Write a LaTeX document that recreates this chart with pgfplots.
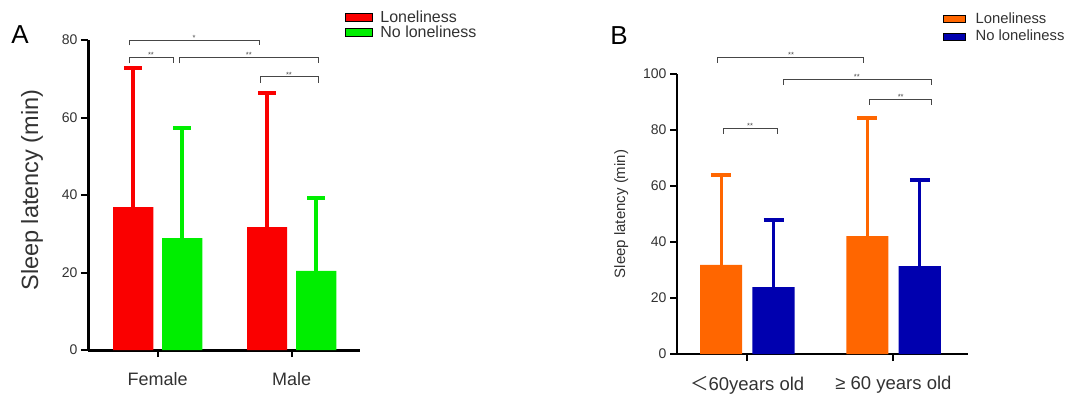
\documentclass[border=0pt]{standalone}
\usepackage{fontspec}
\setmainfont{Liberation Sans}
\newfontfamily\cjk{Noto Sans CJK SC}
\usepackage{pgfplots}
\pgfplotsset{compat=1.18}
\definecolor{cred}{RGB}{250,0,0}
\definecolor{cgreen}{RGB}{0,238,0}
\definecolor{corange}{RGB}{255,102,0}
\definecolor{cblue}{RGB}{0,0,175}
\definecolor{brk}{RGB}{70,70,70}
\definecolor{tk}{RGB}{50,50,50}
\pgfplotsset{
  mybar/.style n args={4}{ybar, bar width=#2, bar shift=0pt, draw=none, fill=#1,
    error bars/.cd, y dir=plus, y explicit, error mark=|,
    error bar style={line width=#3, color=#1},
    error mark options={line width=4pt, mark size=#4, color=#1}},
  base/.style={
    scale only axis, clip=false,
    axis x line*=bottom, axis y line*=left,
    x axis line style={line width=#1, black},
    y axis line style={line width=#1, black},
    every outer x axis line/.append style={line width=#1},
    every outer y axis line/.append style={line width=#1},
    tick style={line width=2pt, black},
    major tick length=7pt,
    tick align=outside,
    ymin=0,
    xtick={0,1},
    yticklabel style={font=\fontsize{14}{15}\selectfont, text=tk},
    /pgf/number format/assume math mode=true,
    xticklabel style={text=tk, yshift=-12pt},
    legend cell align=left,
    legend style={draw=none, fill=none, inner sep=0pt, text=tk, row sep=0pt,
      nodes={inner ysep=1pt, inner xsep=0pt},
      /tikz/every odd column/.append style={column sep=8pt}},
  },
  brack/.style={forget plot, brk, line width=0.9pt},
}
\newcommand{\stars}[3]{\node[text=brk, font=\fontsize{7.5}{8}\selectfont, anchor=south, inner sep=0.5pt] at (axis cs:#1,#2) {#3};}
\begin{document}
\begin{tikzpicture}
\path[use as bounding box] (0,0) rectangle (1067pt,397pt);
\node[font=\fontsize{26}{28}\selectfont, text=black] at (20pt,362pt) {A};
\node[font=\fontsize{26}{28}\selectfont, text=black] at (619pt,361pt) {B};
% Panel A
\begin{axis}[base=3pt, at={(88pt,47pt)}, anchor=south west,
  width=272pt, height=310pt,
  xmin=-0.52, xmax=1.51, ymax=80,
  ytick={0,20,40,60,80},
  xticklabels={Female, Male},
  xticklabel style={font=\fontsize{18}{20}\selectfont},
  ylabel={Sleep latency (min)},
  ylabel style={at={(axis description cs:-0.206,0.516)}, anchor=center, font=\fontsize{23.5}{25}\selectfont, text=tk},
  legend image code/.code={\fill[#1] (0pt,-4pt) rectangle (27pt,4pt);},
  legend style={at={(0.944,1.098)}, anchor=north west, font=\fontsize{16}{17}\selectfont},
]
\addlegendimage{fill=cred}
\addlegendimage{fill=cgreen}
\addplot[forget plot, mybar={cred}{0.3}{4pt}{9pt}] coordinates {(-0.183,36.9) +- (0,35.9) (0.817,31.7) +- (0,34.6)};
\addplot[forget plot, mybar={cgreen}{0.3}{4pt}{9pt}] coordinates {(0.183,28.9) +- (0,28.4) (1.183,20.4) +- (0,18.8)};
\legend{Loneliness, No loneliness}
\addplot[brack] coordinates {(-0.213,78.6) (-0.213,80) (0.757,80) (0.757,78.6)};
\addplot[brack] coordinates {(-0.213,74.0) (-0.213,75.6) (0.116,75.6) (0.116,74.0)};
\addplot[brack] coordinates {(0.160,74.0) (0.160,75.6) (1.198,75.6) (1.198,74.0)};
\addplot[brack] coordinates {(0.765,69.0) (0.765,70.6) (1.198,70.6) (1.198,69.0)};
\stars{0.272}{79.6}{*}
\stars{-0.05}{75.2}{**}
\stars{0.68}{75.2}{**}
\stars{0.98}{70.2}{**}
\end{axis}
% Panel B
\begin{axis}[base=2.4pt, at={(677pt,43pt)}, anchor=south west,
  width=291pt, height=280pt,
  xmin=-0.48, xmax=1.51, ymax=100,
  ytick={0,20,40,60,80,100},
  xticklabels={{{\cjk ＜}60years old}, {≥ 60 years old}},
  xticklabel style={font=\fontsize{18.5}{20}\selectfont},
  ylabel={Sleep latency (min)},
  ylabel style={at={(axis description cs:-0.192,0.5)}, anchor=center, font=\fontsize{15}{16}\selectfont, text=tk},
  legend image code/.code={\fill[#1] (0pt,-3.5pt) rectangle (22pt,3.5pt);},
  legend style={at={(0.914,1.222)}, anchor=north west, font=\fontsize{14.8}{16}\selectfont,
    row sep=3pt, /tikz/every odd column/.append style={column sep=10pt}},
]
\addlegendimage{fill=corange}
\addlegendimage{fill=cblue}
\addplot[forget plot, mybar={corange}{0.288}{3pt}{10pt}] coordinates {(-0.178,31.8) +- (0,32.1) (0.822,42.1) +- (0,42.2)};
\addplot[forget plot, mybar={cblue}{0.288}{3pt}{10pt}] coordinates {(0.18,23.9) +- (0,24.0) (1.18,31.4) +- (0,30.7)};
\legend{Loneliness, No loneliness}
\addplot[brack] coordinates {(-0.205,104) (-0.205,106) (0.795,106) (0.795,104)};
\addplot[brack] coordinates {(0.247,96.2) (0.247,98.2) (1.26,98.2) (1.26,96.2)};
\addplot[brack] coordinates {(0.836,89) (0.836,91) (1.26,91) (1.26,89)};
\addplot[brack] coordinates {(-0.164,78.7) (-0.164,80.7) (0.205,80.7) (0.205,78.7)};
\stars{0.3}{105.6}{**}
\stars{0.75}{97.8}{**}
\stars{1.05}{90.6}{**}
\stars{0.02}{80.3}{**}
\end{axis}
\end{tikzpicture}
\end{document}
